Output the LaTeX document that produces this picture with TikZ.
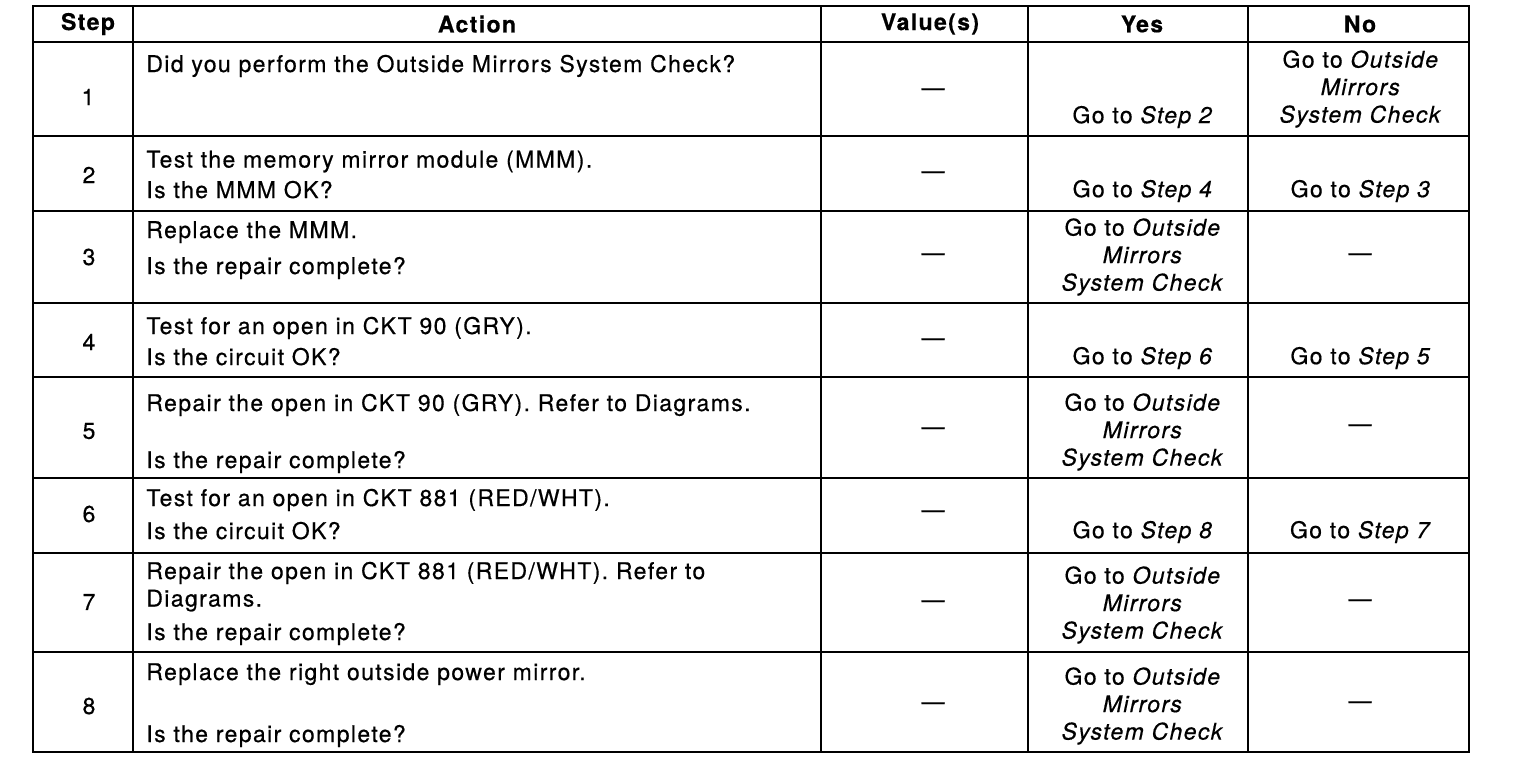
\documentclass[tikz,border=0pt]{standalone}
\usepackage{fontspec}
\setmainfont{TeX Gyre Heros}[LetterSpace=6, FakeBold=0.5]
\tikzset{
  grid/.style={line width=1.4pt},
  txt/.style={inner sep=0pt, font=\fontsize{11.5}{13.75}\selectfont},
  head/.style={inner sep=0pt, font=\fontsize{11.5}{13.75}\selectfont\bfseries},
  act/.style={txt, anchor=base west, align=left},
  ans/.style={txt, align=center},
}
\begin{document}
\begin{tikzpicture}[x=0.5pt, y=-0.5pt]
            \useasboundingbox (0, 0) rectangle (1520, 768);

            % table frame
            \draw[grid] (33, 6) rectangle (1469, 752);
            \draw[grid] (133, 6) -- (133, 752) (821, 6) -- (821, 752)
                        (1028, 6) -- (1028, 752) (1248, 6) -- (1248, 752);
            \draw[grid] (33, 42) -- (1469, 42) (33, 136) -- (1469, 136)
                        (33, 211) -- (1469, 211) (33, 303) -- (1469, 303)
                        (33, 377) -- (1469, 377) (33, 478) -- (1469, 478)
                        (33, 553) -- (1469, 553) (33, 652) -- (1469, 652);

            % header
            \node[head] (hStep) at (88, 24) {Step};
            \node[head] (hAction) at (477, 24) {Action};
            \node[head] (hValue) at (930, 24) {Value(s)};
            \node[head] (hYes) at (1142, 24) {Yes};
            \node[head] (hNo) at (1360, 24) {No};

            % step 1 (action nodes sit on the baseline of their last line)
            \node[txt] (s1) at (88, 97) {1};
            \node[act] (a1) at (146, 72) {Did you perform the Outside Mirrors System Check?};
            \node[txt] (v1) at (933, 92) {---};
            \node[ans] (y1) at (1143, 117) {Go to \textit{Step 2}};
            \node[ans] (n1) at (1361, 89) {Go to \textit{Outside}\\\textit{Mirrors}\\\textit{System Check}};

            % step 2
            \node[txt] (s2) at (89, 175) {2};
            \node[act] (a2) at (146, 198) {Test the memory mirror module (MMM).\\[1.5pt]Is the MMM OK?};
            \node[txt] (v2) at (933, 175) {---};
            \node[ans] (y2) at (1143, 191) {Go to \textit{Step 4}};
            \node[ans] (n2) at (1361, 191) {Go to \textit{Step 3}};

            % step 3
            \node[txt] (s3) at (89, 257) {3};
            \node[act] (a3) at (146, 274) {Replace the MMM.\\[4.25pt]Is the repair complete?};
            \node[txt] (v3) at (933, 257) {---};
            \node[ans] (y3) at (1143, 257) {Go to \textit{Outside}\\\textit{Mirrors}\\\textit{System Check}};
            \node[txt] (n3) at (1360, 257) {---};

            % step 4
            \node[txt] (s4) at (89, 342) {4};
            \node[act] (a4) at (146, 365) {Test for an open in CKT 90 (GRY).\\[1.75pt]Is the circuit OK?};
            \node[txt] (v4) at (933, 342) {---};
            \node[ans] (y4) at (1143, 358) {Go to \textit{Step 6}};
            \node[ans] (n4) at (1361, 358) {Go to \textit{Step 5}};

            % step 5
            \node[txt] (s5) at (89, 431) {5};
            \node[act] (a5) at (146, 468) {Repair the open in CKT 90 (GRY). Refer to Diagrams.\\[14.75pt]Is the repair complete?};
            \node[txt] (v5) at (933, 431) {---};
            \node[ans] (y5) at (1143, 432) {Go to \textit{Outside}\\\textit{Mirrors}\\\textit{System Check}};
            \node[txt] (n5) at (1360, 428) {---};

            % step 6
            \node[txt] (s6) at (89, 514) {6};
            \node[act] (a6) at (146, 539) {Test for an open in CKT 881 (RED/WHT).\\[2.75pt]Is the circuit OK?};
            \node[txt] (v6) at (933, 514) {---};
            \node[ans] (y6) at (1143, 532) {Go to \textit{Step 8}};
            \node[ans] (n6) at (1361, 532) {Go to \textit{Step 7}};

            % step 7
            \node[txt] (s7) at (89, 602) {7};
            \node[act] (a7) at (146, 640) {Repair the open in CKT 881 (RED/WHT). Refer to\\Diagrams.\\[3pt]Is the repair complete?};
            \node[txt] (v7) at (933, 604) {---};
            \node[ans] (y7) at (1143, 605) {Go to \textit{Outside}\\\textit{Mirrors}\\\textit{System Check}};
            \node[txt] (n7) at (1360, 603) {---};

            % step 8
            \node[txt] (s8) at (89, 706) {8};
            \node[act] (a8) at (146, 742) {Replace the right outside power mirror.\\[17.25pt]Is the repair complete?};
            \node[txt] (v8) at (933, 706) {---};
            \node[ans] (y8) at (1143, 706) {Go to \textit{Outside}\\\textit{Mirrors}\\\textit{System Check}};
            \node[txt] (n8) at (1360, 705) {---};
        \end{tikzpicture}
\end{document}
